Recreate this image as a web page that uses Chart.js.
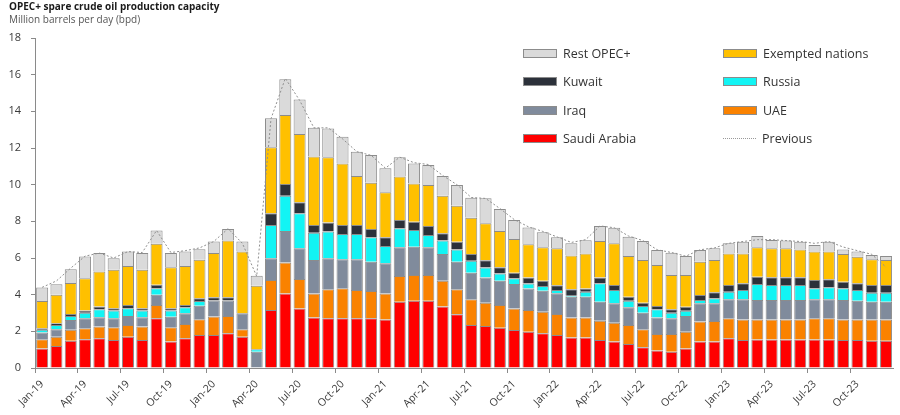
<!DOCTYPE html>
<html>
<head>
<meta charset="utf-8">
<script src="https://cdn.jsdelivr.net/npm/chart.js@4.4.0/dist/chart.umd.min.js"></script>
<style>
body{margin:0;background:#fff;font-family:'Open Sans',sans-serif;}
#wrap{position:relative;width:900px;height:415px;}
#title{position:absolute;left:9px;top:-1px;font-size:10px;font-weight:bold;color:#1a1a1a;}
#sub{position:absolute;left:9px;top:12px;font-size:10px;color:#555;}
#legend{position:absolute;left:523px;top:39px;display:grid;grid-template-columns:200px 160px;grid-auto-rows:28.5px;}
.item{display:flex;align-items:center;font-size:12.5px;color:#333;}
.box{width:32px;height:7px;border:1px solid #8c8c8c;margin-right:6px;}
.dots{width:33px;height:0;border-top:1px dotted #999;margin-right:6px;}
</style>
</head>
<body>
<div id="wrap">
<canvas id="mychart" width="900" height="415"></canvas>
<div id="title">OPEC+ spare crude oil production capacity</div>
<div id="sub">Million barrels per day (bpd)</div>
<div id="legend"></div>
</div>
<script>
'use strict';
const months=['Jan-19','Feb-19','Mar-19','Apr-19','May-19','Jun-19','Jul-19','Aug-19','Sep-19','Oct-19','Nov-19','Dec-19',
'Jan-20','Feb-20','Mar-20','Apr-20','May-20','Jun-20','Jul-20','Aug-20','Sep-20','Oct-20','Nov-20','Dec-20',
'Jan-21','Feb-21','Mar-21','Apr-21','May-21','Jun-21','Jul-21','Aug-21','Sep-21','Oct-21','Nov-21','Dec-21',
'Jan-22','Feb-22','Mar-22','Apr-22','May-22','Jun-22','Jul-22','Aug-22','Sep-22','Oct-22','Nov-22','Dec-22',
'Jan-23','Feb-23','Mar-23','Apr-23','May-23','Jun-23','Jul-23','Aug-23','Sep-23','Oct-23','Nov-23','Dec-23'];

const saudi=[1.07,1.20,1.49,1.57,1.62,1.53,1.71,1.53,2.71,1.44,1.62,1.80,
1.80,1.89,1.71,0,3.16,4.07,3.25,2.76,2.71,2.71,2.71,2.71,
2.65,3.62,3.67,3.67,3.35,2.93,2.35,2.29,2.20,2.07,1.98,1.89,
1.80,1.67,1.67,1.53,1.44,1.31,1.13,0.95,0.89,1.07,1.44,1.44,
1.62,1.53,1.56,1.56,1.56,1.56,1.56,1.56,1.53,1.53,1.49,1.49];
const uae=[0.50,0.51,0.59,0.60,0.64,0.69,0.64,0.73,0.73,0.78,0.78,0.86,
1.01,0.95,0.40,0,1.64,1.69,1.60,1.31,1.58,1.64,1.54,1.49,
1.42,1.40,1.40,1.40,1.41,1.36,1.40,1.27,1.24,1.18,1.18,1.18,
1.15,1.09,1.09,1.05,1.03,1.04,0.98,0.90,0.96,0.91,1.09,1.12,
1.09,1.12,1.09,1.09,1.09,1.09,1.15,1.15,1.12,1.12,1.16,1.16];
const iraq=[0.36,0.40,0.54,0.54,0.51,0.49,0.49,0.51,0.55,0.58,0.59,0.73,
0.87,0.84,0.88,0.89,1.18,1.71,1.68,1.82,1.69,1.58,1.68,1.60,
1.64,1.56,1.55,1.51,1.46,1.51,1.45,1.38,1.32,1.33,1.18,1.15,
1.13,1.13,1.13,1.04,1.06,0.96,0.91,0.91,0.86,0.85,1.00,0.97,
1.04,1.10,1.06,1.06,1.06,1.06,1.04,1.04,1.06,1.02,0.97,0.97];
const russia=[0.15,0.24,0.22,0.31,0.44,0.42,0.42,0.36,0.36,0.33,0.33,0.27,
0,0,0,0.13,1.82,1.93,1.91,1.49,1.46,1.38,1.38,1.33,
0.94,1.04,0.91,0.67,0.73,0.67,0.65,0.54,0.40,0.31,0.27,0.25,
0.18,0.05,0.27,1.00,0.72,0.36,0.36,0.44,0.31,0.29,0.18,0.27,
0.41,0.50,0.87,0.82,0.82,0.82,0.60,0.65,0.64,0.58,0.49,0.49];
const kuwait=[0.09,0.09,0.11,0.11,0.14,0.13,0.18,0.13,0.19,0.13,0.12,0.15,
0.18,0.18,0,0,0.64,0.64,0.60,0.42,0.49,0.49,0.49,0.45,
0.48,0.45,0.45,0.50,0.40,0.42,0.37,0.40,0.33,0.31,0.33,0.29,
0.25,0.35,0.18,0.31,0.28,0.22,0.18,0.18,0.18,0.22,0.27,0.33,
0.37,0.37,0.40,0.42,0.42,0.42,0.45,0.44,0.36,0.37,0.42,0.42];
const exempted=[1.49,1.55,1.68,1.77,1.91,2.10,2.13,2.10,2.24,2.24,2.13,2.09,
2.41,3.10,3.37,3.46,3.60,3.76,3.72,3.73,3.56,3.36,2.67,2.52,
2.45,2.37,2.09,2.23,2.05,1.96,1.98,2.02,1.98,1.84,1.81,1.82,
2.02,1.84,1.90,2.00,2.27,2.22,2.33,2.24,1.87,1.73,1.82,1.76,
1.72,1.63,1.60,1.58,1.58,1.52,1.55,1.51,1.51,1.45,1.40,1.36];
const restOpec=[0.73,0.58,0.76,1.18,1.01,0.63,0.79,0.91,0.72,0.77,0.79,0.58,
0.63,0.62,0.54,0.55,1.58,1.95,1.89,1.57,1.58,1.46,1.33,1.52,
1.31,1.05,1.09,1.09,1.07,1.13,1.09,1.36,1.20,1.03,0.91,0.82,
0.60,0.67,0.73,0.82,0.85,1.05,1.04,0.82,1.22,1.04,0.64,0.64,
0.55,0.64,0.62,0.45,0.42,0.42,0.36,0.54,0.25,0.28,0.23,0.22];
const previous=[4.4,4.75,5.45,6.1,6.27,6.0,6.35,6.3,7.5,6.3,6.4,6.55,
6.9,7.6,6.8,5.0,13.6,15.8,14.6,13.1,13.1,12.5,11.8,11.6,
10.9,11.5,11.2,11.1,10.5,10.0,9.3,9.25,8.7,8.1,7.7,7.45,
7.15,6.85,7.0,7.75,7.65,7.2,6.95,6.45,6.3,6.1,6.45,6.55,
6.8,6.9,7.0,7.0,6.95,6.9,6.8,6.9,6.6,6.4,6.2,5.5];
const yTicks=[0,2,4,6,8,10,12,14,16,18];

function bar(label,data,color){
  return {label:label,data:data,backgroundColor:color,borderColor:'#8c8c8c',borderWidth:1,
    barPercentage:0.84,categoryPercentage:1.0};
}

let mychart=document.getElementById('mychart').getContext('2d');
let chart=new Chart(mychart,{
  type:'bar',
  data:{
    labels:months,
    datasets:[
      bar('Saudi Arabia',saudi,'#ff0000'),
      bar('UAE',uae,'#fa8200'),
      bar('Iraq',iraq,'#808b9c'),
      bar('Russia',russia,'#12f4f4'),
      bar('Kuwait',kuwait,'#2c313a'),
      bar('Exempted nations',exempted,'#ffc000'),
      bar('Rest OPEC+',restOpec,'#dadada'),
      {type:'line',label:'Previous',data:previous,stack:'prev',order:-1,borderColor:'#8f8f8f',
        borderWidth:1,borderDash:[2,2],pointRadius:0,fill:false,tension:0}
    ]
  },
  options:{
    responsive:false,
    animation:false,
    devicePixelRatio:1,
    layout:{padding:{top:38,right:5,left:0,bottom:0}},
    plugins:{legend:{display:false},tooltip:{enabled:false}},
    scales:{
      x:{
        stacked:true,
        grid:{offset:true,drawOnChartArea:false,tickLength:5,
          color:c=>c.index%3===0?'#8a8a8a':'rgba(0,0,0,0)'},
        border:{display:true,color:'#8a8a8a'},
        ticks:{autoSkip:false,maxRotation:45,minRotation:45,padding:5,color:'#3a3a3a',
          font:{family:'Open Sans',size:10.5},
          callback:(v,i)=>i%3===0?months[i]:''},
        afterFit:s=>{s.height=47;}
      },
      y:{
        stacked:true,min:0,max:18,
        afterBuildTicks:s=>{s.ticks=yTicks.map(v=>({value:v}));},
        grid:{drawOnChartArea:false,drawTicks:true,tickLength:4,color:'#8a8a8a'},
        border:{display:true,color:'#8a8a8a'},
        ticks:{padding:10,color:'#3a3a3a',font:{family:'Open Sans',size:11}},
        afterFit:s=>{s.width=35;}
      }
    }
  }
});

// legend laid out in two columns like the original
const legendOrder=['Rest OPEC+','Exempted nations','Kuwait','Russia','Iraq','UAE','Saudi Arabia','Previous'];
let html='';
legendOrder.forEach(name=>{
  const ds=chart.data.datasets.find(d=>d.label===name);
  const mark=ds.type==='line'?'<span class="dots"></span>':'<span class="box" style="background:'+ds.backgroundColor+'"></span>';
  html+='<div class="item">'+mark+name+'</div>';
});
document.getElementById('legend').innerHTML=html;
</script>
</body>
</html>
